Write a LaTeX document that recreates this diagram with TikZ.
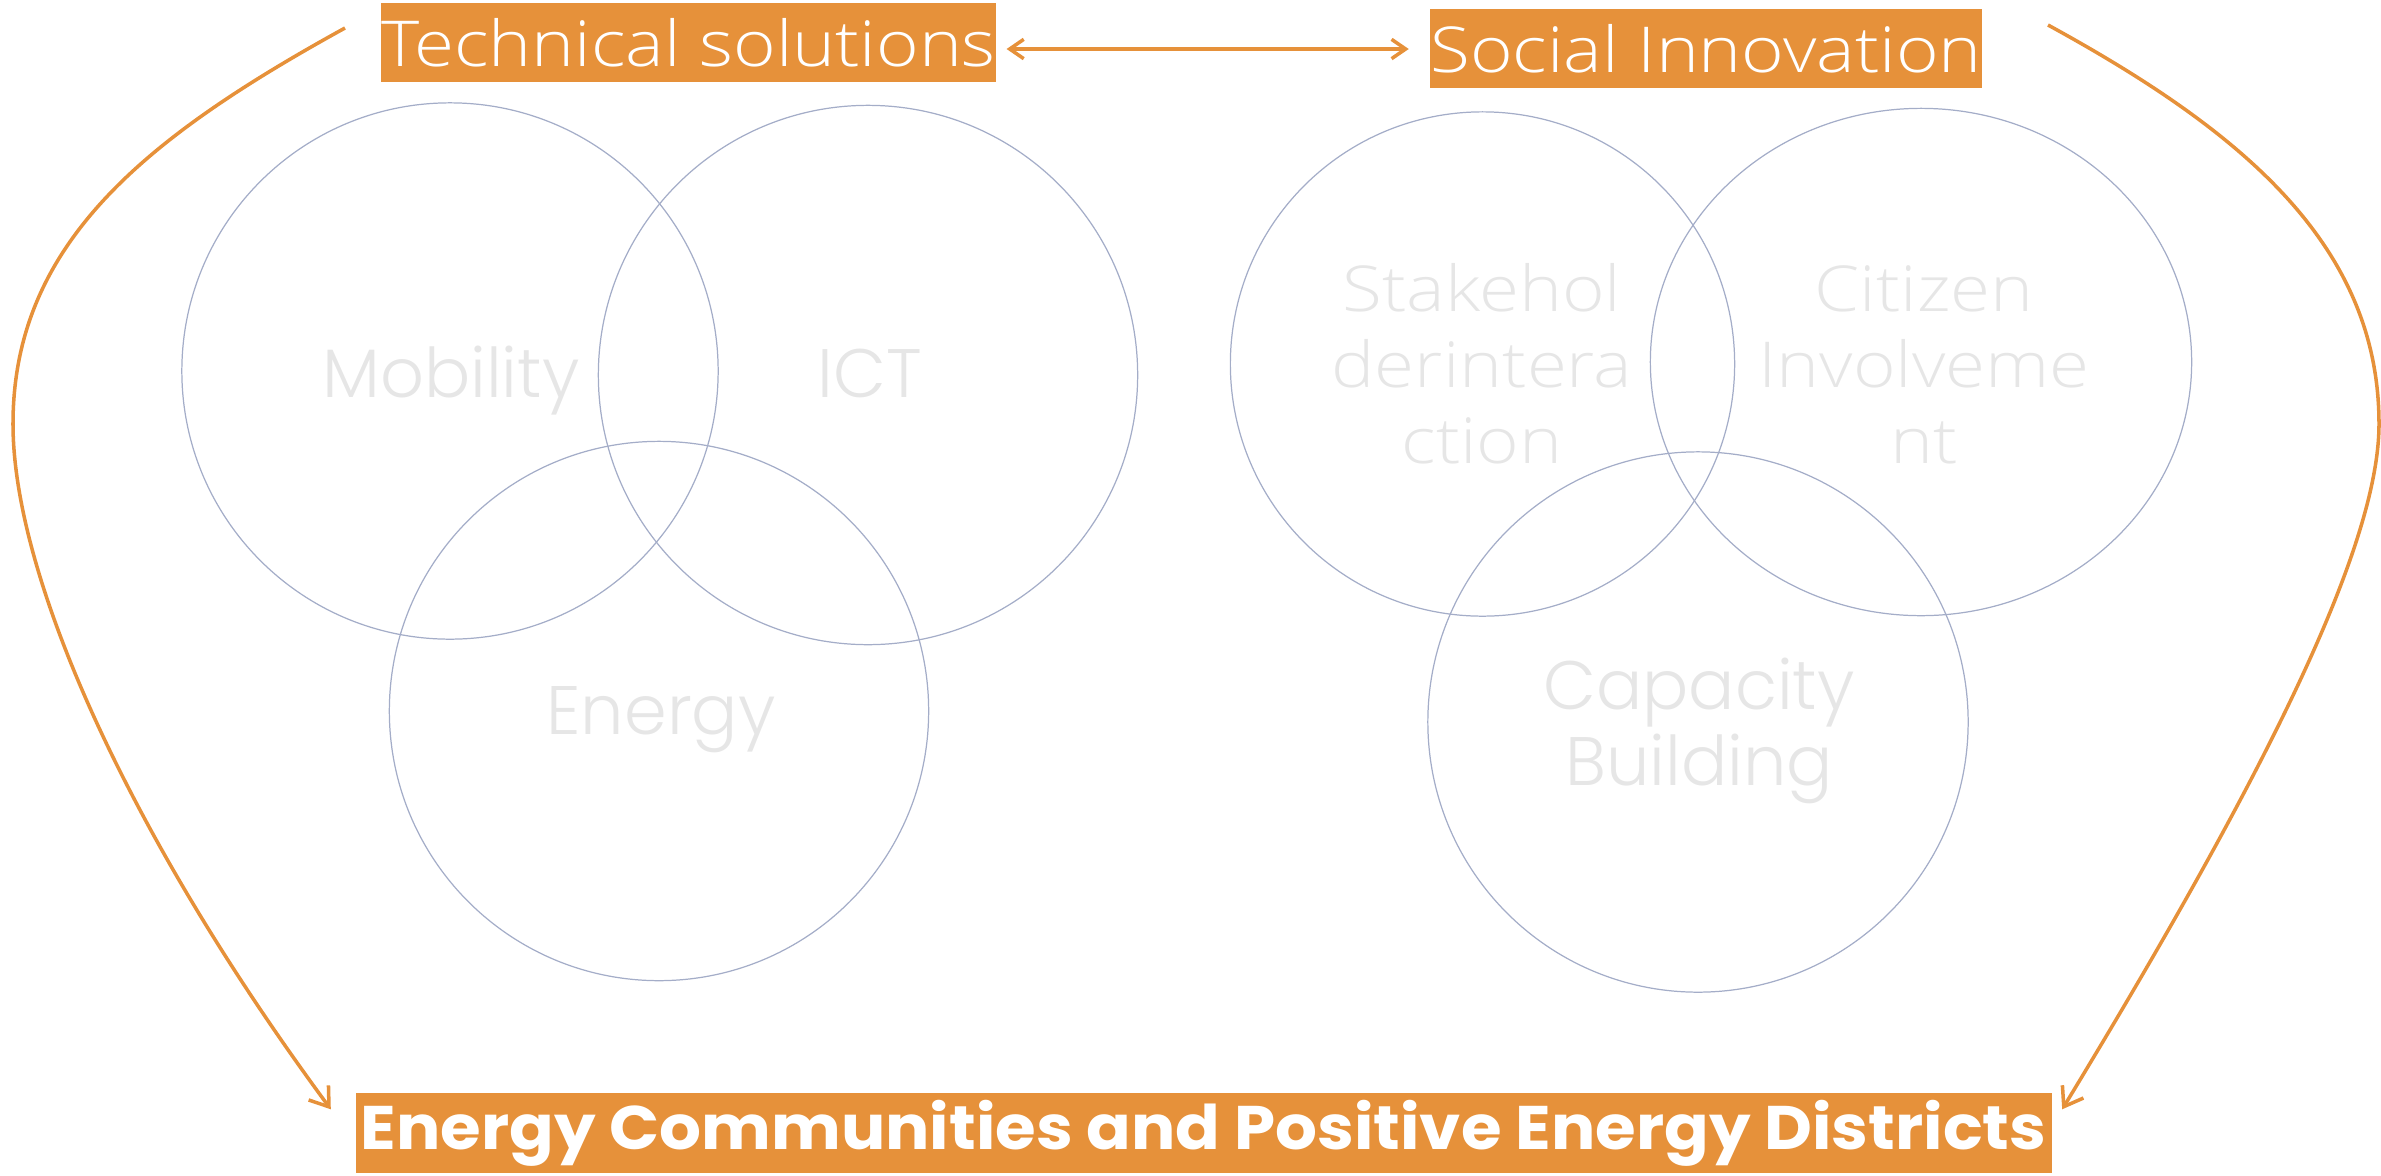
\documentclass[tikz,border=0pt]{standalone}
\usepackage{fontspec}
\usetikzlibrary{arrows.meta,shapes.geometric}
\newfontfamily\segoe{Open Sans}[UprightFont=* Light, FakeStretch=1.15]
\newfontfamily\montL{Poppins}[UprightFont=* Light]
\newfontfamily\montB{Poppins}[UprightFont=* Bold, FakeStretch=1.07]
\definecolor{orng}{HTML}{E6913A}
\definecolor{circl}{HTML}{A4ADC8}
\definecolor{lgray}{HTML}{E6E6E6}
\begin{document}
\begin{tikzpicture}[x=0.01cm,y=-0.01cm,
  obox/.style={fill=orng, inner sep=0pt, text=white},
  circ/.style={draw=circl, line width=0.35pt, circle, inner sep=0pt},
  mlbl/.style={text=lgray, align=center, font=\montL\fontsize{19.5}{21.6}\selectfont, inner sep=0pt},
  slbl/.style={text=lgray, align=center, font=\segoe\fontsize{18}{21.6}\selectfont, inner sep=0pt},
  oarr/.style={draw=orng, line width=1pt, -{Straight Barb[length=5pt,width=7pt]}},
  darr/.style={draw=orng, line width=1pt, {Straight Barb[length=4pt,width=5.5pt]}-{Straight Barb[length=4pt,width=5.5pt]}}
]
\useasboundingbox (0,0) rectangle (2381,1175);

% boxes
\node[obox, minimum width=6.13cm, minimum height=0.79cm, font=\segoe\fontsize{18}{21.6}\selectfont] (tech) at (688.5,42.5) {Technical solutions};
\node[obox, minimum width=5.48cm, minimum height=0.79cm, font=\segoe\fontsize{18}{21.6}\selectfont] (soc) at (1706,48.5) {Social Innovation};
\node[obox, minimum width=16.95cm, minimum height=0.80cm, font=\montB\fontsize{17.5}{20}\selectfont] (ecpd) at (1203.5,1133) {Energy Communities and Positive Energy Districts};

% left venn
\node[circ, minimum size=5.36cm] (mob) at (450,371) {};
\node[circ, minimum size=5.39cm] (ict) at (868,375) {};
\node[circ, minimum size=5.39cm] (ene) at (659,711) {};
\node[mlbl, anchor=base] (tmob) at (451,397) {Mobility};
\node[mlbl, anchor=base] (tict) at (870,397) {ICT};
\node[mlbl, anchor=base] (tene) at (661,734) {Energy};

% right venn
\node[circ, minimum size=5.04cm] (sta) at (1482.5,364) {};
\node[draw=circl, line width=0.35pt, ellipse, inner sep=0pt, minimum width=5.41cm, minimum height=5.07cm] (cit) at (1921,362) {};
\node[circ, minimum size=5.40cm] (cap) at (1698,722) {};
\node[slbl, anchor=base] (tsta) at (1482,463) {Stakehol\\derintera\\ction};
\node[slbl, anchor=base] (tcit) at (1924,463) {Citizen\\Involveme\\nt};
\node[mlbl, anchor=base] (tcap) at (1699,785) {Capacity\\Building};

% connectors
\draw[darr] ([shift={(10,6.5)}]tech.east) -- ([shift={(-21,0.5)}]soc.west);
\coordinate (ls) at (345,28);
\coordinate (rs) at (2048,25);
\draw[oarr] (ls) .. controls (145,138) and (13,244) .. (13,424)
  .. controls (13,574) and (125,830) .. ([shift={(-24,17)}]ecpd.north west);
\draw[oarr] (rs) .. controls (2240,130) and (2379,244) .. (2379,424)
  .. controls (2379,554) and (2250,800) .. ([shift={(10,17)}]ecpd.north east);
\end{tikzpicture}
\end{document}
